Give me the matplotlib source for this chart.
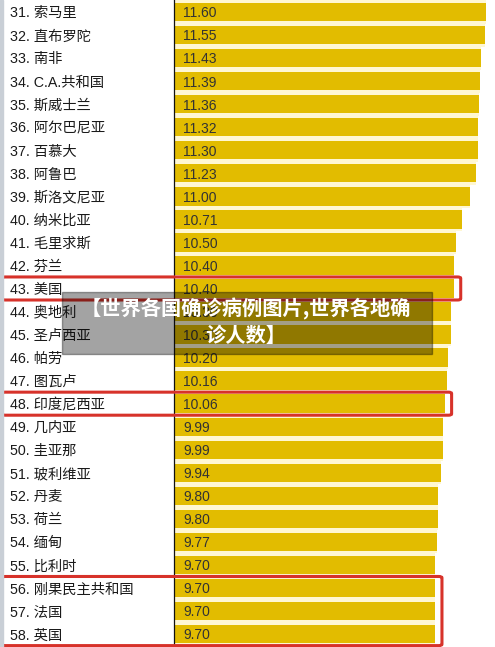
import matplotlib.pyplot as plt
from matplotlib.patches import FancyBboxPatch, Rectangle

plt.rcParams['font.family'] = ['Liberation Sans', 'Noto Sans CJK SC', 'DejaVu Sans']

# ranks and countries
ranks = list(range(31, 59))
countries = ['索马里', '直布罗陀', '南非', 'C.A.共和国', '斯威士兰', '阿尔巴尼亚', '百慕大',
             '阿鲁巴', '斯洛文尼亚', '纳米比亚', '毛里求斯', '芬兰', '美国', '奥地利',
             '圣卢西亚', '帕劳', '图瓦卢', '印度尼西亚', '几内亚', '圭亚那', '玻利维亚',
             '丹麦', '荷兰', '缅甸', '比利时', '刚果民主共和国', '法国', '英国']
values = [11.60, 11.55, 11.43, 11.39, 11.36, 11.32, 11.30, 11.23, 11.00, 10.71,
          10.50, 10.40, 10.40, 10.30, 10.30, 10.20, 10.16, 10.06, 9.99, 9.99,
          9.94, 9.80, 9.80, 9.77, 9.70, 9.70, 9.70, 9.70]
highlight_groups = [[43], [48], [56, 57, 58]]
watermark = '【世界各国确诊病例图片,世界各地确\n诊人数】'

W, H = 495, 647
x0 = 175          # pixel where bars start
scale = 26.8      # pixels per unit
row_h = 23.04     # pixels per row
top = 12          # centre of first row in pixels

fig = plt.figure(figsize=(W / 100, H / 100), dpi=100)
ax = fig.add_axes([0, 0, 1, 1])
ax.set_xlim(-x0 / scale, (W - x0) / scale)
ax.set_ylim((H - top) / row_h, -top / row_h)
ax.axis('off')

ypos = list(range(len(values)))
gold = '#E2BC00'
cream = '#FFF7D2'
ax.barh(ypos, values, height=1.0, color=cream, zorder=1)
ax.barh(ypos, values, height=0.8, color=gold, zorder=2)

for y, r, c, v in zip(ypos, ranks, countries, values):
    ax.text(-x0 / scale + 10 / scale, y + 0.06, f'{r}. {c}', va='center', ha='left',
            fontsize=10.3, color='#1a1a1a', zorder=3)
    ax.text(8 / scale, y + 0.06, f'{v:.2f}', va='center', ha='left',
            fontsize=10, color='#333333', zorder=3)

# separator line between names and bars
ax.axvline(-1 / scale, color='#111111', lw=0.9, zorder=3)

# left window border
fig.patches.append(Rectangle((0, 0), 3 / W, 1, transform=fig.transFigure,
                             color='#c9cfd6', zorder=0))

# red highlight boxes
for grp in highlight_groups:
    i0 = ranks.index(grp[0])
    i1 = ranks.index(grp[-1])
    vmax = max(values[i0:i1 + 1])
    left = -x0 / scale + 2 / scale
    right = vmax + 7 / scale
    box = FancyBboxPatch((left, i0 - 0.5), right - left, i1 - i0 + 1,
                         boxstyle='round,pad=0,rounding_size=0.12',
                         fill=False, ec='#D7322A', lw=2.2, zorder=4,
                         mutation_aspect=0.5, clip_on=False)
    ax.add_patch(box)

# watermark overlay
fig.patches.append(Rectangle((62 / W, 1 - 354 / H), 370 / W, 62 / H,
                             transform=fig.transFigure, color='black',
                             alpha=0.36, zorder=5))
fig.text(246 / W, 1 - 322 / H, watermark, ha='center', va='center',
         fontsize=14.6, fontweight='bold', color='white', linespacing=1.3,
         family=['Noto Sans CJK SC', 'DejaVu Sans'], zorder=6)

fig.savefig('out.png', dpi=100)
